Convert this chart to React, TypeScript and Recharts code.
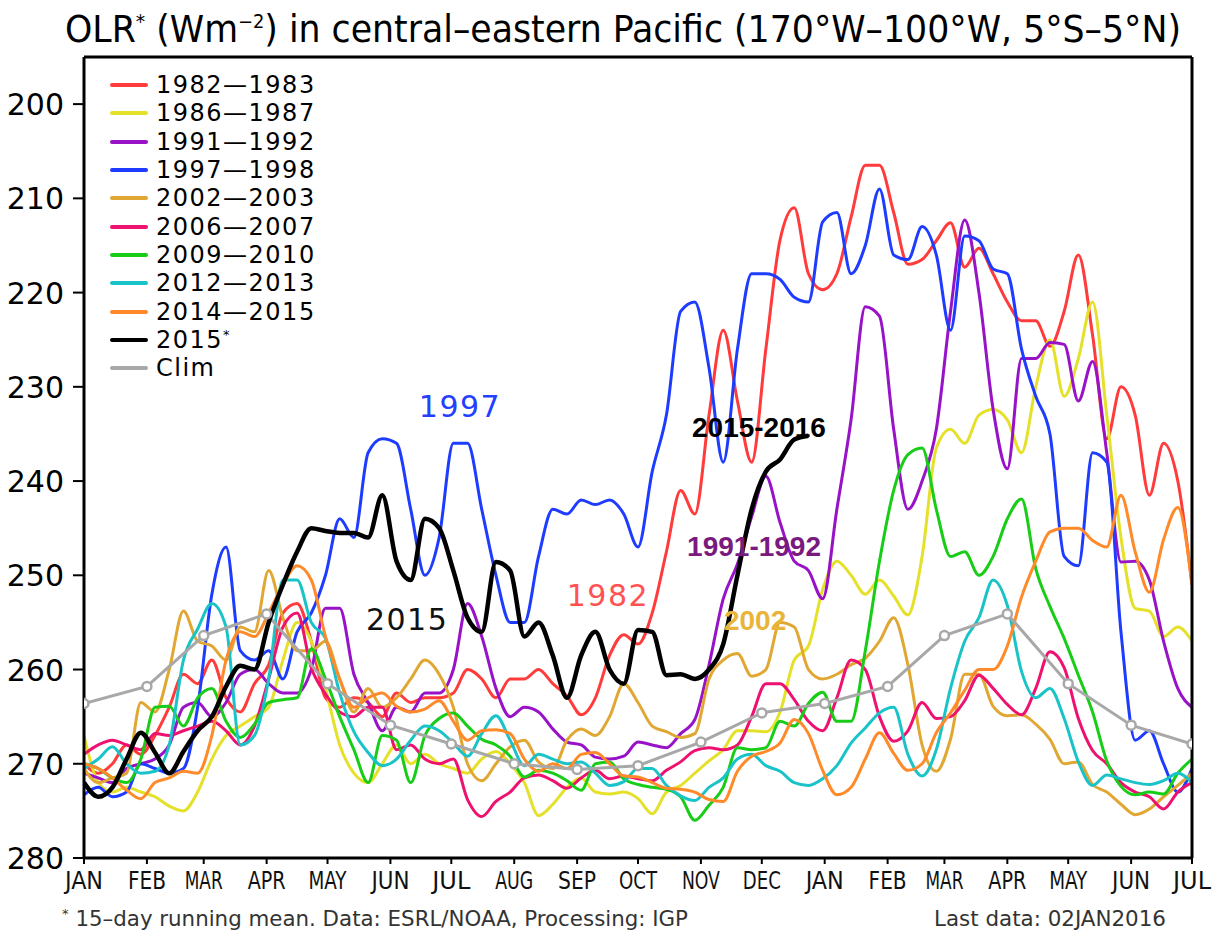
import React from 'react';
import { LineChart, Line, XAxis, YAxis, Legend, ReferenceDot, ReferenceLine } from 'recharts';

// day of the 18-month window (Jan of year 1 .. Jul of year 2)
const monthDays = [0, 31, 59, 90, 120, 151, 181, 212, 243, 273, 304, 334, 365, 396, 424, 455, 485, 516, 546];
const monthLabels = ['JAN', 'FEB', 'MAR', 'APR', 'MAY', 'JUN', 'JUL', 'AUG', 'SEP', 'OCT', 'NOV', 'DEC', 'JAN', 'FEB', 'MAR', 'APR', 'MAY', 'JUN', 'JUL'];
const yTicks = [200, 210, 220, 230, 240, 250, 260, 270, 280];

// weekly sampling days
const weekDays = [
  0, 7, 14, 21, 28, 35, 42, 49, 56, 63,
  70, 77, 84, 91, 98, 105, 112, 119, 126, 133,
  140, 147, 154, 161, 168, 175, 182, 189, 196, 203,
  210, 217, 224, 231, 238, 245, 252, 259, 266, 273,
  280, 287, 294, 301, 308, 315, 322, 329, 336, 343,
  350, 357, 364, 371, 378, 385, 392, 399, 406, 413,
  420, 427, 434, 441, 448, 455, 462, 469, 476, 483,
  490, 497, 504, 511, 518, 525, 532, 539, 546,
];

const v1982 = [
  270, 271, 270, 268, 269, 267, 264, 260.5, 261.5, 259,
  263, 264.5, 261.5, 259.5, 254, 253, 257, 263, 264, 263,
  263.5, 265, 262.5, 263.5, 263, 263, 262.5, 260, 261, 263,
  261, 261, 260, 261.5, 262.8, 264.8, 263, 258.5, 256.3, 257.3,
  254, 247.5, 241, 243.5, 233, 224, 231.5, 238, 226, 214.4,
  211, 218, 219.7, 218, 212, 206.5, 206.5, 211.5, 217, 216.5,
  214.5, 212.6, 217.3, 215.3, 218, 221, 223, 223, 225.7, 222,
  216, 224.5, 235.5, 230, 233, 241.5, 236, 240, 251,
];
const v1986 = [
  267, 272, 273, 272.5, 273, 273.5, 274.5, 275, 273, 269.5,
  267, 266, 265, 264, 259, 255, 257, 262, 268, 271,
  272, 270, 268, 270, 269, 270, 270.5, 271, 269.5, 268.7,
  270, 272, 275.5, 274.3, 272.5, 271.5, 273, 273.2, 273, 273.7,
  275.3, 273, 272.3, 271, 269.7, 268.5, 266.5, 266.5, 266.6, 264.5,
  259, 257.5, 251.5, 248.5, 250, 252, 250.5, 252.2, 254.2, 248,
  236.5, 234.5, 236, 233, 232.4, 233.5, 237, 230, 225, 231,
  227, 221, 233, 246, 253.5, 253.8, 256.5, 255.5, 257,
];
const v1991 = [
  271, 271.5, 272, 270.5, 270, 269.5, 268, 264, 263.5, 265,
  263.5, 260.5, 260, 261.5, 262.5, 262.5, 260, 253.5, 253.5, 260.5,
  263.5, 266.5, 264, 264.5, 262.5, 262.5, 260, 253, 256.5, 262,
  265, 264, 264.5, 266.3, 267.7, 268, 269.3, 269.5, 269.2, 267.7,
  268, 268.3, 266.8, 265.3, 259.5, 252.5, 248.8, 243.8, 239.5, 244.4,
  248.5, 249.5, 252.5, 243, 233.5, 221.5, 222.5, 234.5, 243, 240,
  234.5, 222, 212.3, 220, 232.4, 238.7, 227, 227, 225.3, 225.5,
  231.5, 227.3, 237, 248.6, 248.5, 250.5, 257, 262, 264,
];
const v1997 = [
  273.3, 272.5, 273.5, 273, 270, 270.5, 271, 270.5, 264, 252,
  247, 258, 259, 258, 261, 256, 254, 250, 244, 246,
  237, 235.5, 236, 243, 250, 246, 236, 236, 243, 250,
  255, 255, 248, 243, 243.5, 242, 242.5, 242, 243.5, 247,
  239, 233, 222, 221, 228, 238, 226, 218, 218, 218.6,
  220.5, 221, 212.5, 211.5, 218, 215, 209, 216, 216.5, 213,
  216, 224, 214, 214.5, 217.5, 218, 226, 231, 235, 248,
  249, 237, 238, 256, 267.5, 266.5, 270, 273, 270.5,
];
const v2002 = [
  270.5, 272, 271.5, 271, 263.5, 264.5, 260, 253.8, 257, 257.5,
  259, 255.5, 256, 249.5, 254.5, 258, 258, 257, 261, 264.5,
  262, 264, 263, 261, 259, 260.5, 264, 270, 271.8, 270,
  268.2, 267.5, 269.8, 270.5, 267.5, 266.3, 267, 265, 261.5, 263.5,
  266, 266.6, 267.2, 266.8, 261, 259, 258.3, 260.7, 260, 255,
  255.5, 260, 261, 260.5, 259.5, 258.8, 257, 254.5, 259.5, 268,
  270.8, 267.4, 260.5, 260.5, 263.9, 264.9, 264.8, 265.8, 267.4, 270,
  269.8, 272.2, 273, 274.3, 275.4, 274.8, 273.5, 272.3, 271,
];
const v2006 = [
  269, 268, 267.5, 268, 268.5, 266.8, 267, 266.5, 266, 265.5,
  266.5, 268, 266, 261, 255.5, 254, 259.8, 262.6, 264.5, 265,
  264, 264, 268.5, 268, 269.5, 270, 269.5, 273.8, 275.6, 274,
  273, 271.5, 271.2, 271.8, 272.6, 271.5, 270.7, 271.6, 271.3, 271.6,
  271.8, 270.7, 269.8, 268.6, 268.3, 268.5, 268, 265, 261.5, 261.5,
  263.2, 265.5, 266.5, 263, 259, 260, 265, 267.6, 266.5, 263.5,
  265.2, 265, 263.3, 260.6, 262, 263.7, 264.8, 262, 258.1, 259.8,
  265.2, 268.6, 270, 272, 273, 273.5, 274.8, 273, 272,
];
const v2009 = [
  270, 270.5, 271.5, 272, 269.5, 264, 263.9, 266, 263, 262,
  265.5, 267.2, 265.8, 263.5, 263.2, 263, 257.8, 261, 265, 268.5,
  272, 267, 267.5, 272, 267, 265.2, 264.6, 266, 267.4, 268,
  269.2, 271.4, 270.7, 271, 271.8, 272.8, 270, 269.8, 271.6, 272.2,
  272.5, 272.7, 273.5, 276, 274.4, 272.5, 268.3, 268.5, 268.3, 265.5,
  266, 263.6, 262.4, 265.5, 265.5, 258, 248.5, 241, 237.2, 236.5,
  243, 248, 247.5, 250, 248, 244, 241.9, 249.3, 253.3, 256.7,
  260.6, 264.5, 269.7, 272.4, 273.3, 273, 273.2, 271, 269.5,
];
const v2012 = [
  270.5, 269.5, 268.2, 270, 271, 270.8, 268, 259, 255.7, 253,
  255.5, 268, 267, 261, 250.5, 250.5, 255, 256.7, 262.5, 266.6,
  268.8, 270.2, 269.5, 267.5, 266, 266.5, 267.8, 269.2, 266.8, 264.9,
  267.5, 270.2, 269, 269.5, 270, 269.8, 271, 272.3, 271.9, 270.5,
  270.5, 272.3, 273.4, 273.9, 272.5, 271.5, 269.5, 269, 270.2, 270.8,
  272, 272.3, 271.6, 270.2, 267.8, 266.2, 264.6, 264, 269, 271.3,
  268.5, 262, 257, 254.5, 250.5, 253.2, 260.2, 263, 262, 265.2,
  269.8, 272.3, 271.2, 271.6, 272, 272.2, 271.8, 271, 272,
];
const v2014 = [
  270, 270.5, 271.5, 272.8, 273.7, 272, 271.5, 270.8, 271, 267,
  259, 256, 256.5, 254, 251, 249, 250.5, 256.5, 261, 264,
  263, 262.5, 263.9, 264.5, 264.2, 263.3, 265.5, 267.5, 266.5, 266.4,
  266.8, 269.5, 270.8, 270, 270.5, 269, 268.8, 270, 271.3, 271.4,
  272, 272.6, 272.7, 273, 273.8, 274, 270.8, 269.2, 268.7, 267.8,
  265.3, 266.8, 270.7, 273.3, 272.5, 269.5, 266.7, 268.9, 270.7, 270,
  266.7, 264.6, 262.2, 260, 260, 257.5, 252.3, 248.5, 245.4, 245,
  245, 246.3, 247, 241.5, 247.5, 251.8, 246.2, 242.8, 251,
];
const v2015 = [
  272, 273.5, 272.5, 269.5, 266.7, 268.8, 271, 268.7, 266.5, 265,
  261.8, 259.6, 260, 255, 251, 247.5, 245, 245.3, 245.5, 245.5,
  246, 241.5, 248.5, 250.5, 244, 245, 249.5, 254.5, 256, 248.6,
  249.5, 256.5, 255, 258.5, 263, 258.5, 256, 260, 261.5, 255.8,
  256, 260.6, 260.5, 261, 260, 257.3, 250, 243, 239, 237.7,
  235.6, 235.2,
];

const climDays = monthDays;
const climVals = [263.6, 261.8, 256.4, 254.1, 261.5, 265.9, 267.9, 270.0, 270.6, 270.2, 267.7, 264.6, 263.6, 261.8, 256.4, 254.1, 261.5, 265.9, 267.9];

const seriesKeys = ['s1982', 's1986', 's1991', 's1997', 's2002', 's2006', 's2009', 's2012', 's2014'];
const seriesNames = ['1982—1983', '1986—1987', '1991—1992', '1997—1998', '2002—2003', '2006—2007', '2009—2010', '2012—2013', '2014—2015'];
const seriesColors = ['#FF3B3B', '#E5E02A', '#9812C8', '#1E3CFF', '#E1A733', '#EE1170', '#18CC18', '#19C3C8', '#FF8A2A'];
const seriesValues = [v1982, v1986, v1991, v1997, v2002, v2006, v2009, v2012, v2014];

// annotations in data coordinates
const noteTexts = ['1997', '2015-2016', '1991-1992', '1982', '2015', '2002'];
const noteDays = [185.3, 332.6, 330.2, 258.2, 159.2, 330.7];
const noteVals = [233.2, 235.3, 248.0, 253.3, 255.8, 255.8];
const noteColors = ['#2340FF', '#000000', '#7A1A7E', '#FF5252', '#111111', '#E8B53A'];
const noteBold = [false, true, true, false, false, true];

const condensed = "'DejaVu Sans Condensed', 'DejaVu Sans', sans-serif";
const wide = "'DejaVu Sans', sans-serif";

const MonthTick = (p: any) => (
  <text
    x={p.x}
    y={p.y}
    dy={17}
    textAnchor="middle"
    fontFamily={condensed}
    fontStretch="condensed"
    fontSize={24}
    fill="#111"
    textLength={38}
    lengthAdjust="spacingAndGlyphs"
  >
    {monthLabels[monthDays.indexOf(p.payload.value)]}
  </text>
);

const ValTick = (p: any) => (
  <text x={p.x} y={p.y} dy={11} textAnchor="end" fontFamily={wide} fontSize={30} fill="#000">
    {p.payload.value}
  </text>
);

const LegendBox = () => (
  <div style={{ fontFamily: wide, fontSize: 24, letterSpacing: 1.5, color: '#000' }}>
    {seriesNames.concat(['2015', 'Clim']).map((n, i) => (
      <div key={n} style={{ height: 28.3, display: 'flex', alignItems: 'center', whiteSpace: 'nowrap' }}>
        <span
          style={{
            display: 'inline-block',
            width: 38,
            height: 4,
            borderRadius: 2,
            marginRight: 8,
            background: i < 9 ? seriesColors[i] : i === 9 ? '#000' : '#A8A8A8',
          }}
        />
        <span>
          {n}
          {i === 9 && <span style={{ fontSize: 13, verticalAlign: 'super' }}>*</span>}
        </span>
      </div>
    ))}
  </div>
);

export default function App() {
  const rows = weekDays.map((d, i) => {
    const r: any = { d, s2015: i < v2015.length ? v2015[i] : null };
    seriesKeys.forEach((k, j) => {
      r[k] = seriesValues[j][i];
    });
    return r;
  });
  const climRows = climDays.map((d, i) => ({ d, clim: climVals[i] }));
  const frame = { stroke: '#000', strokeWidth: 3 };

  return (
    <div style={{ position: 'absolute', left: 0, top: 0, width: 1221, height: 937, background: '#fff' }}>
      <LineChart width={1221} height={937} data={rows} margin={{ top: 57, right: 29, bottom: 49, left: 14 }}>
        <XAxis
          dataKey="d"
          type="number"
          domain={[0, 546]}
          ticks={monthDays}
          interval={0}
          tick={MonthTick}
          tickSize={6}
          tickMargin={8}
          height={30}
          axisLine={frame}
          tickLine={{ stroke: '#000', strokeWidth: 2 }}
          allowDataOverflow
        />
        <YAxis
          type="number"
          domain={[195, 280]}
          reversed
          ticks={yTicks}
          interval={0}
          width={70}
          tickSize={11}
          tickMargin={9}
          tick={ValTick}
          axisLine={frame}
          tickLine={{ stroke: '#000', strokeWidth: 2 }}
          allowDataOverflow
        />
        <Legend
          layout="vertical"
          align="center"
          verticalAlign="middle"
          content={() => <LegendBox />}
          wrapperStyle={{ top: 71, left: 110, width: 260, height: 320 }}
        />
        {seriesKeys.map((k, j) => (
          <Line
            key={k}
            type="monotone"
            dataKey={k}
            name={seriesNames[j]}
            stroke={seriesColors[j]}
            strokeWidth={3}
            strokeLinejoin="round"
            dot={false}
            activeDot={false}
            isAnimationActive={false}
          />
        ))}
        <Line
          data={climRows}
          type="linear"
          dataKey="clim"
          name="Clim"
          stroke="#A8A8A8"
          strokeWidth={3}
          dot={{ r: 4.5, fill: '#fff', stroke: '#A8A8A8', strokeWidth: 2.5 }}
          activeDot={false}
          isAnimationActive={false}
        />
        <Line
          type="monotone"
          dataKey="s2015"
          name="2015*"
          stroke="#000"
          strokeWidth={4.5}
          strokeLinejoin="round"
          dot={false}
          activeDot={false}
          isAnimationActive={false}
        />
        {/* top and right sides of the frame */}
        <ReferenceLine y={195} stroke="#000" strokeWidth={3} />
        <ReferenceLine x={546} stroke="#000" strokeWidth={3} />
        {noteTexts.map((t, i) => (
          <ReferenceDot
            key={t}
            x={noteDays[i]}
            y={noteVals[i]}
            r={1}
            shape={(p: any) => (
              <text
                x={p.cx}
                y={p.cy}
                textAnchor="middle"
                fill={noteColors[i]}
                fontFamily={noteBold[i] ? "'Liberation Sans', Arial, sans-serif" : wide}
                fontWeight={noteBold[i] ? 'bold' : 'normal'}
                fontSize={noteBold[i] ? 28 : 30}
                letterSpacing={noteBold[i] ? 0 : 1.5}
              >
                {t}
              </text>
            )}
          />
        ))}
      </LineChart>
      <svg width={1221} height={937} style={{ position: 'absolute', left: 0, top: 0, pointerEvents: 'none' }}>
        <text x={65} y={42} fontFamily={condensed} fontStretch="condensed" fontSize={37} fill="#000" textLength={1116} lengthAdjust="spacingAndGlyphs">
          OLR<tspan fontSize={20} dy={-14}>*</tspan>
          <tspan dy={14}> (Wm</tspan>
          <tspan fontSize={19} dy={-14}>−2</tspan>
          <tspan dy={14}>) in central–eastern Pacific (170°W–100°W, 5°S–5°N)</tspan>
        </text>
        <text x={62} y={926} fontFamily={condensed} fontStretch="condensed" fontSize={21} fill="#333" textLength={626} lengthAdjust="spacingAndGlyphs">
          <tspan fontSize={13} dy={-8}>*</tspan>
          <tspan dy={8}> 15–day running mean. Data: ESRL/NOAA, Processing: IGP</tspan>
        </text>
        <text x={934} y={926} fontFamily={condensed} fontStretch="condensed" fontSize={21} fill="#333" textLength={232} lengthAdjust="spacingAndGlyphs">
          Last data: 02JAN2016
        </text>
      </svg>
    </div>
  );
}
